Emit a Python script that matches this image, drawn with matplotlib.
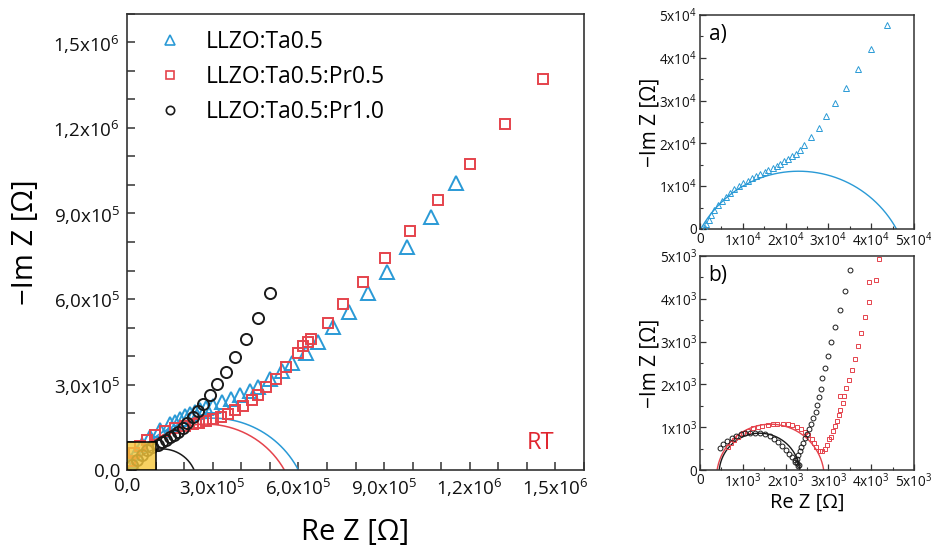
import numpy as np
import matplotlib
matplotlib.use("Agg")
import matplotlib.pyplot as plt
from matplotlib.patches import Rectangle
from matplotlib.ticker import MultipleLocator
from matplotlib.lines import Line2D

plt.rcParams['font.family'] = ['Open Sans', 'DejaVu Sans']
plt.rcParams['mathtext.fontset'] = 'custom'
plt.rcParams['mathtext.rm'] = 'Open Sans'
plt.rcParams['mathtext.default'] = 'regular'

# ---------------- data ----------------
labels = ["LLZO:Ta0.5", "LLZO:Ta0.5:Pr0.5", "LLZO:Ta0.5:Pr1.0"]
c_blue, c_red, c_black = "#2a9ad6", "#e5434c", "#1a1a1a"

# main plot (values in 1e6 Ohm)
ta_x = [0.003, 0.014, 0.031, 0.052, 0.080, 0.115, 0.150, 0.168, 0.185, 0.203, 0.220, 0.238,
        0.255, 0.278, 0.300, 0.331, 0.363, 0.394, 0.429, 0.460, 0.499, 0.541, 0.579, 0.628,
        0.670, 0.722, 0.778, 0.844, 0.910, 0.980, 1.064, 1.151]
ta_y = [0.010, 0.032, 0.060, 0.088, 0.116, 0.140, 0.161, 0.170, 0.179, 0.188, 0.196, 0.203,
        0.210, 0.217, 0.225, 0.239, 0.249, 0.263, 0.277, 0.291, 0.319, 0.347, 0.375, 0.410,
        0.449, 0.502, 0.554, 0.621, 0.695, 0.782, 0.888, 1.007]

pr05_x = [0.010, 0.024, 0.045, 0.070, 0.098, 0.133, 0.167, 0.202, 0.230, 0.251, 0.276, 0.300,
          0.328, 0.352, 0.377, 0.405, 0.436, 0.457, 0.488, 0.523, 0.558, 0.600, 0.617, 0.635,
          0.645, 0.704, 0.757, 0.827, 0.903, 0.991, 1.088, 1.200, 1.322, 1.458]
pr05_y = [0.032, 0.060, 0.084, 0.105, 0.123, 0.137, 0.147, 0.154, 0.161, 0.165, 0.172, 0.179,
          0.186, 0.196, 0.211, 0.225, 0.246, 0.263, 0.291, 0.319, 0.361, 0.411, 0.435, 0.449,
          0.460, 0.516, 0.582, 0.660, 0.744, 0.839, 0.947, 1.074, 1.214, 1.372]

pr10_x = [0.017, 0.035, 0.052, 0.070, 0.087, 0.108, 0.122, 0.136, 0.150, 0.164, 0.178, 0.195,
          0.209, 0.230, 0.248, 0.265, 0.290, 0.314, 0.345, 0.377, 0.415, 0.457, 0.499]
pr10_y = [0.018, 0.035, 0.053, 0.070, 0.081, 0.088, 0.098, 0.105, 0.116, 0.123, 0.133, 0.147,
          0.165, 0.186, 0.207, 0.232, 0.263, 0.302, 0.344, 0.396, 0.460, 0.533, 0.621]

# fitted arcs: (start, end, peak height) in 1e6 Ohm
fit_main = {"ta": (0.0, 0.600, 0.182), "pr05": (0.0, 0.551, 0.161), "pr10": (0.010, 0.235, 0.074)}

# inset a (values in 1e4 Ohm)
a_x = [0.12, 0.15, 0.20, 0.26, 0.33, 0.42, 0.51, 0.61, 0.70, 0.80, 0.90, 1.00, 1.11, 1.21, 1.31,
       1.41, 1.51, 1.60, 1.70, 1.79, 1.88, 1.97, 2.06, 2.15, 2.24, 2.34, 2.44, 2.59, 2.77, 2.95,
       3.16, 3.40, 3.68, 3.99, 4.36]
a_y = [0.03, 0.11, 0.22, 0.33, 0.44, 0.55, 0.65, 0.75, 0.84, 0.93, 1.00, 1.07, 1.13, 1.18, 1.24,
       1.29, 1.34, 1.39, 1.43, 1.48, 1.53, 1.58, 1.64, 1.70, 1.76, 1.85, 1.96, 2.15, 2.37, 2.63,
       2.94, 3.30, 3.73, 4.21, 4.76]
fit_a = (0.02, 4.59, 1.35)

# inset b (values in 1e3 Ohm)
b_pr10_x = [0.47, 0.54, 0.64, 0.74, 0.84, 0.95, 1.06, 1.17, 1.28, 1.40, 1.52, 1.63, 1.73, 1.83,
            1.92, 2.01, 2.08, 2.15, 2.22, 2.27, 2.32, 2.28, 2.23, 2.26, 2.30, 2.33, 2.37, 2.41,
            2.46, 2.50, 2.55, 2.60, 2.64, 2.70, 2.74, 2.78, 2.82, 2.86, 2.92, 2.99, 3.06, 3.16,
            3.26, 3.39, 3.50]
b_pr10_y = [0.51, 0.61, 0.68, 0.75, 0.79, 0.83, 0.86, 0.87, 0.87, 0.86, 0.84, 0.79, 0.73, 0.65,
            0.56, 0.47, 0.37, 0.30, 0.23, 0.17, 0.12, 0.10, 0.19, 0.26, 0.35, 0.45, 0.54, 0.64,
            0.74, 0.84, 0.95, 1.07, 1.21, 1.35, 1.52, 1.71, 1.90, 2.14, 2.38, 2.66, 2.99, 3.33,
            3.73, 4.18, 4.68]
b_pr05_x = [0.65, 0.72, 0.80, 0.89, 1.00, 1.11, 1.23, 1.35, 1.46, 1.58, 1.70, 1.81, 1.93, 2.05,
            2.16, 2.27, 2.37, 2.45, 2.53, 2.61, 2.67, 2.72, 2.80, 2.84, 2.92, 2.97, 3.02, 3.06,
            3.11, 3.16, 3.20, 3.24, 3.28, 3.33, 3.37, 3.27, 3.42, 3.47, 3.54, 3.62, 3.69, 3.76,
            3.86, 3.95, 3.95, 4.11, 4.18]
b_pr05_y = [0.53, 0.62, 0.70, 0.78, 0.86, 0.92, 0.97, 1.01, 1.03, 1.05, 1.07, 1.07, 1.07, 1.07,
            1.04, 1.01, 0.96, 0.89, 0.82, 0.72, 0.64, 0.54, 0.45, 0.45, 0.48, 0.58, 0.72, 0.76,
            0.91, 1.03, 1.15, 1.28, 1.40, 1.56, 1.73, 1.73, 1.91, 2.10, 2.33, 2.60, 2.89, 3.20,
            3.57, 3.93, 4.39, 4.43, 4.94]
fit_b = {"pr05": (0.40, 2.89, 1.07), "pr10": (0.45, 2.33, 0.86)}

main_xticks = [0, 3e5, 6e5, 9e5, 1.2e6, 1.5e6]
main_ticklabels = ["0,0", "3,0x10$^5$", "6,0x10$^5$", "9,0x10$^5$", "1,2x10$^6$", "1,5x10$^6$"]
a_ticks = [0, 1e4, 2e4, 3e4, 4e4, 5e4]
a_ticklabels = ["0", "1x10$^4$", "2x10$^4$", "3x10$^4$", "4x10$^4$", "5x10$^4$"]
b_ticks = [0, 1e3, 2e3, 3e3, 4e3, 5e3]
b_ticklabels = ["0", "1x10$^3$", "2x10$^3$", "3x10$^3$", "4x10$^3$", "5x10$^3$"]


def arc(x0, x1, h, n=200):
    c = 0.5 * (x0 + x1)
    a = 0.5 * (x1 - x0)
    r = (a * a + h * h) / (2 * h)
    d = r - h
    t0 = np.arcsin(d / r)
    t = np.linspace(t0, np.pi - t0, n)
    return c + r * np.cos(t), r * np.sin(t) - d


fig = plt.figure(figsize=(9.31, 5.48), dpi=100)
spine_c = "#333333"

# ---------------- main axes ----------------
ax = fig.add_axes([127 / 931, 1 - 470 / 548, 457 / 931, 456 / 548])
s = 1e6
for key, col in (("ta", c_blue), ("pr05", c_red), ("pr10", c_black)):
    xx, yy = arc(*fit_main[key])
    ax.plot(xx * s, yy * s, color=col, lw=1.1, zorder=2)
ax.plot(np.array(ta_x) * s, np.array(ta_y) * s, ls='none', marker='^', ms=9.5, mfc='none',
        mec=c_blue, mew=1.4, zorder=3)
ax.plot(np.array(pr05_x) * s, np.array(pr05_y) * s, ls='none', marker='s', ms=7.5, mfc='none',
        mec=c_red, mew=1.4, zorder=3)
ax.plot(np.array(pr10_x) * s, np.array(pr10_y) * s, ls='none', marker='o', ms=8, mfc='none',
        mec=c_black, mew=1.4, zorder=4)
ax.add_patch(Rectangle((0, 0), 1e5, 1e5, facecolor="#f5c63a", alpha=0.8, edgecolor='none', zorder=5))
ax.add_patch(Rectangle((0, 0), 1e5, 1e5, facecolor="none", edgecolor='black', lw=1.1, zorder=6))

ax.set_xlim(0, 1.6e6)
ax.set_ylim(0, 1.6e6)
ax.set_xticks(main_xticks, main_ticklabels)
ax.set_yticks(main_xticks, main_ticklabels)
ax.xaxis.set_minor_locator(MultipleLocator(1e5))
ax.yaxis.set_minor_locator(MultipleLocator(1e5))
ax.tick_params(which='both', direction='in', labelsize=13.5, colors=spine_c, labelcolor='#111111')
ax.tick_params(which='major', length=6, width=1.1, pad=5)
ax.tick_params(which='minor', length=6, width=1.1)
for sp in ax.spines.values():
    sp.set_color(spine_c)
    sp.set_linewidth(1.2)
ax.set_xlabel("Re Z [Ω]", fontsize=21)
ax.set_ylabel("\u2212Im Z [Ω]", fontsize=21)
ax.yaxis.set_label_coords(-0.19, 0.5)
ax.xaxis.set_label_coords(0.5, -0.105)

handles = [Line2D([], [], ls='none', marker='^', ms=7, mfc='none', mec=c_blue, mew=1.2),
           Line2D([], [], ls='none', marker='s', ms=6, mfc='none', mec=c_red, mew=1.2),
           Line2D([], [], ls='none', marker='o', ms=6, mfc='none', mec=c_black, mew=1.2)]
ax.legend(handles, labels, loc='upper left', bbox_to_anchor=(0.045, 0.985), frameon=False,
          fontsize=16.5, handlelength=1.2, handletextpad=0.95, labelspacing=0.48, borderaxespad=0)
ax.text(0.905, 0.06, "RT", transform=ax.transAxes, color="#e0262f", fontsize=17,
        ha='center', va='center')


def style_inset(axi, ticks, ticklabels, minor):
    axi.set_xlim(0, ticks[-1])
    axi.set_ylim(0, ticks[-1])
    axi.set_xticks(ticks, ticklabels)
    axi.set_yticks(ticks, ticklabels)
    axi.xaxis.set_minor_locator(MultipleLocator(minor))
    axi.yaxis.set_minor_locator(MultipleLocator(minor))
    axi.tick_params(which='both', direction='in', labelsize=9.8, pad=2, colors=spine_c,
                    labelcolor='#111111')
    axi.tick_params(which='major', length=4, width=0.9)
    axi.tick_params(which='minor', length=2.5, width=0.8)
    for sp in axi.spines.values():
        sp.set_color(spine_c)
        sp.set_linewidth(1.1)


# ---------------- inset a ----------------
axa = fig.add_axes([700 / 931, 1 - 229 / 548, 214 / 931, 214 / 548])
sa = 1e4
xx, yy = arc(*fit_a)
axa.plot(xx * sa, yy * sa, color=c_blue, lw=1.0, zorder=2)
axa.plot(np.array(a_x) * sa, np.array(a_y) * sa, ls='none', marker='^', ms=4, mfc='none',
         mec=c_blue, mew=0.7, zorder=3)
style_inset(axa, a_ticks, a_ticklabels, 0.5e4)
axa.set_ylabel("\u2212Im Z [Ω]", fontsize=15)
axa.yaxis.set_label_coords(-0.185, 0.5)
axa.text(0.04, 0.96, "a)", transform=axa.transAxes, fontsize=15, ha='left', va='top')

# ---------------- inset b ----------------
axb = fig.add_axes([700 / 931, 1 - 470 / 548, 214 / 931, 214 / 548])
sb = 1e3
for key, col in (("pr05", c_red), ("pr10", c_black)):
    xx, yy = arc(*fit_b[key])
    axb.plot(xx * sb, yy * sb, color=col, lw=1.0, zorder=2)
axb.plot(np.array(b_pr05_x) * sb, np.array(b_pr05_y) * sb, ls='none', marker='s', ms=3.5,
         mfc='none', mec=c_red, mew=0.7, zorder=3)
axb.plot(np.array(b_pr10_x) * sb, np.array(b_pr10_y) * sb, ls='none', marker='o', ms=3.5,
         mfc='none', mec=c_black, mew=0.7, zorder=3)
style_inset(axb, b_ticks, b_ticklabels, 0.5e3)
axb.set_ylabel("\u2212Im Z [Ω]", fontsize=15)
axb.yaxis.set_label_coords(-0.185, 0.5)
axb.set_xlabel("Re Z [Ω]", fontsize=14.5)
axb.xaxis.set_label_coords(0.5, -0.108)
axb.text(0.04, 0.96, "b)", transform=axb.transAxes, fontsize=15, ha='left', va='top')

fig.savefig("out.png", dpi=100)
